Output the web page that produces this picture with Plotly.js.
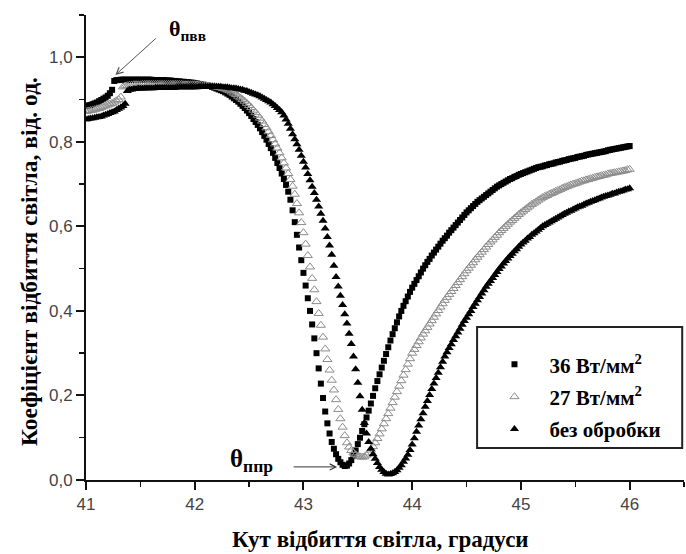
<!DOCTYPE html>
<html>
<head>
<meta charset="utf-8">
<script src="https://cdn.plot.ly/plotly-3.0.1.min.js"></script>
<style>html,body{margin:0;padding:0;background:#fff;}#chart{width:686px;height:554px;}</style>
</head>
<body>
<div id="chart"></div>
<script>
// Angle of reflection, degrees
const angle = [
41.00,41.02,41.04,41.06,41.08,41.10,41.12,41.14,41.16,41.18,
41.20,41.22,41.24,41.26,41.28,41.30,41.32,41.34,41.36,41.38,
41.40,41.42,41.44,41.46,41.48,41.50,41.52,41.54,41.56,41.58,
41.60,41.62,41.64,41.66,41.68,41.70,41.72,41.74,41.76,41.78,
41.80,41.82,41.84,41.86,41.88,41.90,41.92,41.94,41.96,41.98,
42.00,42.02,42.04,42.06,42.08,42.10,42.12,42.14,42.16,42.18,
42.20,42.22,42.24,42.26,42.28,42.30,42.32,42.34,42.36,42.38,
42.40,42.42,42.44,42.46,42.48,42.50,42.52,42.54,42.56,42.58,
42.60,42.62,42.64,42.66,42.68,42.70,42.72,42.74,42.76,42.78,
42.80,42.82,42.84,42.86,42.88,42.90,42.92,42.94,42.96,42.98,
43.00,43.02,43.04,43.06,43.08,43.10,43.12,43.14,43.16,43.18,
43.20,43.22,43.24,43.26,43.28,43.30,43.32,43.34,43.36,43.38,
43.40,43.42,43.44,43.46,43.48,43.50,43.52,43.54,43.56,43.58,
43.60,43.62,43.64,43.66,43.68,43.70,43.72,43.74,43.76,43.78,
43.80,43.82,43.84,43.86,43.88,43.90,43.92,43.94,43.96,43.98,
44.00,44.02,44.04,44.06,44.08,44.10,44.12,44.14,44.16,44.18,
44.20,44.22,44.24,44.26,44.28,44.30,44.32,44.34,44.36,44.38,
44.40,44.42,44.44,44.46,44.48,44.50,44.52,44.54,44.56,44.58,
44.60,44.62,44.64,44.66,44.68,44.70,44.72,44.74,44.76,44.78,
44.80,44.82,44.84,44.86,44.88,44.90,44.92,44.94,44.96,44.98,
45.00,45.02,45.04,45.06,45.08,45.10,45.12,45.14,45.16,45.18,
45.20,45.22,45.24,45.26,45.28,45.30,45.32,45.34,45.36,45.38,
45.40,45.42,45.44,45.46,45.48,45.50,45.52,45.54,45.56,45.58,
45.60,45.62,45.64,45.66,45.68,45.70,45.72,45.74,45.76,45.78,
45.80,45.82,45.84,45.86,45.88,45.90,45.92,45.94,45.96,45.98,
46.00
];

// 36 W/mm^2 (filled squares)
const refl36 = [
0.885,0.886,0.887,0.889,0.891,0.893,0.896,0.899,0.902,0.905,
0.909,0.915,0.923,0.944,0.946,0.946,0.947,0.947,0.947,0.947,
0.947,0.947,0.947,0.947,0.947,0.947,0.947,0.947,0.947,0.947,
0.947,0.946,0.946,0.946,0.946,0.946,0.946,0.945,0.945,0.945,
0.944,0.944,0.943,0.943,0.942,0.942,0.941,0.941,0.940,0.940,
0.939,0.938,0.937,0.936,0.935,0.934,0.933,0.932,0.930,0.928,
0.926,0.924,0.922,0.920,0.917,0.914,0.911,0.907,0.903,0.899,
0.895,0.890,0.885,0.880,0.874,0.868,0.861,0.854,0.847,0.840,
0.832,0.823,0.814,0.805,0.795,0.785,0.774,0.762,0.750,0.738,
0.725,0.712,0.698,0.682,0.663,0.638,0.610,0.580,0.550,0.520,
0.490,0.460,0.430,0.400,0.368,0.335,0.300,0.264,0.228,0.194,
0.162,0.134,0.110,0.090,0.074,0.061,0.050,0.042,0.036,0.033,
0.034,0.039,0.047,0.057,0.070,0.085,0.100,0.116,0.132,0.148,
0.164,0.181,0.199,0.217,0.234,0.250,0.266,0.282,0.298,0.314,
0.330,0.345,0.359,0.373,0.387,0.400,0.412,0.423,0.434,0.445,
0.455,0.464,0.473,0.482,0.491,0.500,0.508,0.516,0.523,0.531,
0.538,0.545,0.552,0.559,0.566,0.572,0.578,0.585,0.591,0.597,
0.603,0.609,0.615,0.621,0.627,0.633,0.638,0.643,0.648,0.653,
0.658,0.662,0.666,0.670,0.674,0.678,0.682,0.686,0.690,0.694,
0.697,0.700,0.703,0.706,0.709,0.712,0.714,0.717,0.719,0.722,
0.724,0.726,0.728,0.730,0.732,0.734,0.736,0.738,0.740,0.741,
0.742,0.744,0.745,0.747,0.748,0.749,0.751,0.752,0.753,0.755,
0.756,0.757,0.759,0.760,0.761,0.762,0.764,0.765,0.766,0.767,
0.769,0.770,0.771,0.772,0.773,0.774,0.775,0.776,0.777,0.778,
0.780,0.781,0.782,0.783,0.784,0.785,0.786,0.787,0.788,0.789,
0.790
];

// 27 W/mm^2 (open triangles)
const refl27 = [
0.872,0.873,0.874,0.875,0.876,0.878,0.879,0.881,0.883,0.885,
0.887,0.889,0.891,0.894,0.897,0.900,0.906,0.930,0.932,0.933,
0.934,0.934,0.935,0.935,0.935,0.935,0.936,0.936,0.936,0.936,
0.936,0.936,0.936,0.936,0.936,0.936,0.936,0.936,0.936,0.936,
0.936,0.936,0.936,0.936,0.936,0.935,0.935,0.935,0.935,0.935,
0.935,0.935,0.934,0.934,0.933,0.933,0.932,0.932,0.931,0.931,
0.930,0.929,0.928,0.926,0.925,0.923,0.921,0.918,0.915,0.912,
0.908,0.904,0.900,0.896,0.891,0.886,0.881,0.875,0.869,0.863,
0.856,0.849,0.841,0.833,0.824,0.815,0.805,0.795,0.785,0.774,
0.762,0.750,0.738,0.725,0.711,0.695,0.676,0.654,0.632,0.609,
0.585,0.558,0.531,0.504,0.477,0.450,0.422,0.394,0.366,0.338,
0.310,0.285,0.260,0.236,0.213,0.190,0.167,0.145,0.125,0.105,
0.088,0.078,0.070,0.064,0.060,0.057,0.055,0.054,0.055,0.059,
0.064,0.071,0.079,0.088,0.098,0.109,0.121,0.133,0.145,0.157,
0.170,0.183,0.196,0.209,0.222,0.235,0.248,0.261,0.274,0.287,
0.300,0.309,0.318,0.327,0.336,0.345,0.353,0.361,0.369,0.377,
0.385,0.393,0.401,0.409,0.417,0.425,0.432,0.439,0.446,0.453,
0.460,0.467,0.474,0.481,0.488,0.495,0.501,0.508,0.514,0.521,
0.527,0.533,0.539,0.545,0.551,0.557,0.563,0.568,0.574,0.579,
0.585,0.590,0.595,0.600,0.605,0.610,0.614,0.619,0.623,0.628,
0.632,0.636,0.640,0.644,0.648,0.652,0.655,0.658,0.662,0.665,
0.668,0.671,0.673,0.676,0.678,0.680,0.683,0.685,0.687,0.690,
0.692,0.694,0.696,0.698,0.700,0.701,0.703,0.705,0.707,0.708,
0.710,0.711,0.713,0.714,0.716,0.717,0.718,0.720,0.721,0.722,
0.724,0.725,0.726,0.727,0.728,0.729,0.730,0.731,0.732,0.734,
0.735
];

// untreated (filled triangles)
const reflRaw = [
0.853,0.854,0.855,0.856,0.857,0.858,0.859,0.860,0.862,0.864,
0.866,0.868,0.870,0.872,0.875,0.878,0.881,0.885,0.890,0.920,
0.923,0.924,0.925,0.925,0.926,0.926,0.926,0.927,0.927,0.927,
0.927,0.927,0.928,0.928,0.928,0.928,0.928,0.928,0.928,0.928,
0.928,0.928,0.929,0.929,0.929,0.929,0.929,0.929,0.929,0.929,
0.929,0.929,0.930,0.930,0.930,0.930,0.930,0.930,0.930,0.930,
0.930,0.930,0.930,0.929,0.929,0.929,0.928,0.927,0.927,0.926,
0.925,0.924,0.923,0.921,0.920,0.918,0.916,0.914,0.912,0.910,
0.908,0.905,0.902,0.899,0.896,0.893,0.889,0.885,0.880,0.875,
0.870,0.862,0.853,0.843,0.831,0.818,0.806,0.794,0.781,0.767,
0.753,0.739,0.724,0.709,0.694,0.679,0.663,0.647,0.630,0.613,
0.595,0.575,0.555,0.533,0.507,0.480,0.458,0.436,0.414,0.392,
0.370,0.346,0.322,0.292,0.262,0.230,0.198,0.166,0.135,0.110,
0.090,0.074,0.061,0.050,0.040,0.031,0.024,0.019,0.015,0.013,
0.014,0.016,0.019,0.023,0.029,0.035,0.043,0.051,0.060,0.071,
0.084,0.099,0.114,0.129,0.144,0.158,0.173,0.187,0.201,0.215,
0.228,0.241,0.254,0.267,0.280,0.292,0.302,0.312,0.321,0.331,
0.340,0.349,0.358,0.367,0.376,0.384,0.392,0.400,0.409,0.417,
0.425,0.433,0.441,0.449,0.457,0.464,0.471,0.478,0.485,0.492,
0.499,0.505,0.512,0.518,0.524,0.530,0.535,0.541,0.546,0.552,
0.557,0.562,0.566,0.571,0.575,0.580,0.584,0.588,0.592,0.596,
0.600,0.603,0.606,0.609,0.612,0.615,0.618,0.621,0.624,0.627,
0.630,0.632,0.635,0.637,0.640,0.642,0.645,0.647,0.649,0.652,
0.654,0.656,0.658,0.660,0.662,0.664,0.666,0.668,0.670,0.672,
0.673,0.675,0.677,0.678,0.680,0.682,0.683,0.685,0.687,0.688,
0.690
];

const seriesNames = ['36 Вт/мм<sup>2</sup>', '27 Вт/мм<sup>2</sup>', 'без обробки'];
const xTicks = [41, 42, 43, 44, 45, 46];
const yTicks = [0.0, 0.2, 0.4, 0.6, 0.8, 1.0];
const yTickText = ['0,0', '0,2', '0,4', '0,6', '0,8', '1,0'];
const xTitle = 'Кут відбиття світла, градуси';
const yTitle = 'Коефіцієнт відбиття світла, від. од.';

const traces = [
  {x: angle, y: refl36, name: seriesNames[0], legendgroup: 'a', type: 'scatter', mode: 'markers',
   marker: {symbol: 'square', size: 6, color: '#000'}},
  {x: angle, y: refl27, name: seriesNames[1], legendgroup: 'b', type: 'scatter', mode: 'markers',
   marker: {symbol: 'triangle-up-open', size: 8, color: '#8c8c8c', line: {width: 1, color: '#8c8c8c'}}},
  {x: angle, y: reflRaw, name: seriesNames[2], legendgroup: 'c', type: 'scatter', mode: 'markers',
   marker: {symbol: 'triangle-up', size: 8, color: '#000'}}
];

const serif = 'Liberation Serif';
const sans = 'Liberation Sans';

const layout = {
  width: 686, height: 554,
  margin: {l: 86, r: 2, t: 15, b: 74},
  paper_bgcolor: '#fff', plot_bgcolor: '#fff',
  showlegend: true,
  legend: {x: 0.658, xanchor: 'left', y: 0.292, yanchor: 'top', bgcolor: 'rgba(0,0,0,0)',
    borderwidth: 0, itemwidth: 60, tracegroupgap: 2,
    font: {family: serif, size: 21, color: '#000', weight: 'bold'}},
  xaxis: {range: [41, 46.5], tickvals: xTicks, ticktext: xTicks.map(String),
    showline: true, linecolor: '#111', linewidth: 2, showgrid: false, zeroline: false,
    ticks: 'outside', ticklen: 8, tickwidth: 2, tickcolor: '#111',
    minor: {dtick: 0.5, tick0: 41, ticks: 'outside', ticklen: 5, tickwidth: 1.5, tickcolor: '#111', showgrid: false},
    tickfont: {family: sans, size: 17, color: '#444'}},
  yaxis: {range: [0, 1.1], tickvals: yTicks, ticktext: yTickText,
    showline: true, linecolor: '#111', linewidth: 2, showgrid: false, zeroline: false,
    ticks: 'outside', ticklen: 8, tickwidth: 2, tickcolor: '#111',
    minor: {dtick: 0.1, tick0: 0, ticks: 'outside', ticklen: 5, tickwidth: 1.5, tickcolor: '#111', showgrid: false},
    tickfont: {family: sans, size: 17, color: '#444'}},
  shapes: [
    {type: 'rect', xref: 'paper', yref: 'paper', x0: 0.654, x1: 0.997, y0: 0.069, y1: 0.329,
     line: {color: '#222', width: 2}, fillcolor: 'rgba(0,0,0,0)'}
  ],
  annotations: [
    {x: 0.492, y: -0.129, xref: 'paper', yref: 'paper', xanchor: 'center', yanchor: 'middle',
     text: xTitle, showarrow: false, font: {family: serif, size: 23, color: '#000', weight: 'bold'}},
    {x: -0.095, y: 0.469, xref: 'paper', yref: 'paper', xanchor: 'center', yanchor: 'middle', textangle: -90,
     text: yTitle, showarrow: false, font: {family: serif, size: 23.5, color: '#000', weight: 'bold'}},
    {x: 41.27, y: 0.958, xref: 'x', yref: 'y', text: '', showarrow: true, ax: 42, ay: -38,
     arrowhead: 5, arrowsize: 1.3, arrowwidth: 1, arrowcolor: '#555'},
    {x: 41.93, y: 1.065, xref: 'x', yref: 'y', text: 'θ<sub>пвв</sub>', showarrow: false,
     font: {family: serif, size: 22, color: '#000', weight: 'bold'}},
    {x: 43.31, y: 0.031, xref: 'x', yref: 'y', text: '', showarrow: true, ax: -45, ay: 0,
     arrowhead: 5, arrowsize: 1.2, arrowwidth: 1, arrowcolor: '#333'},
    {x: 42.52, y: 0.045, xref: 'x', yref: 'y', text: 'θ<sub>ппр</sub>', showarrow: false,
     font: {family: serif, size: 25, color: '#000', weight: 'bold'}}
  ]
};

Plotly.newPlot('chart', traces, layout, {displayModeBar: false, staticPlot: true});
</script>
</body>
</html>
